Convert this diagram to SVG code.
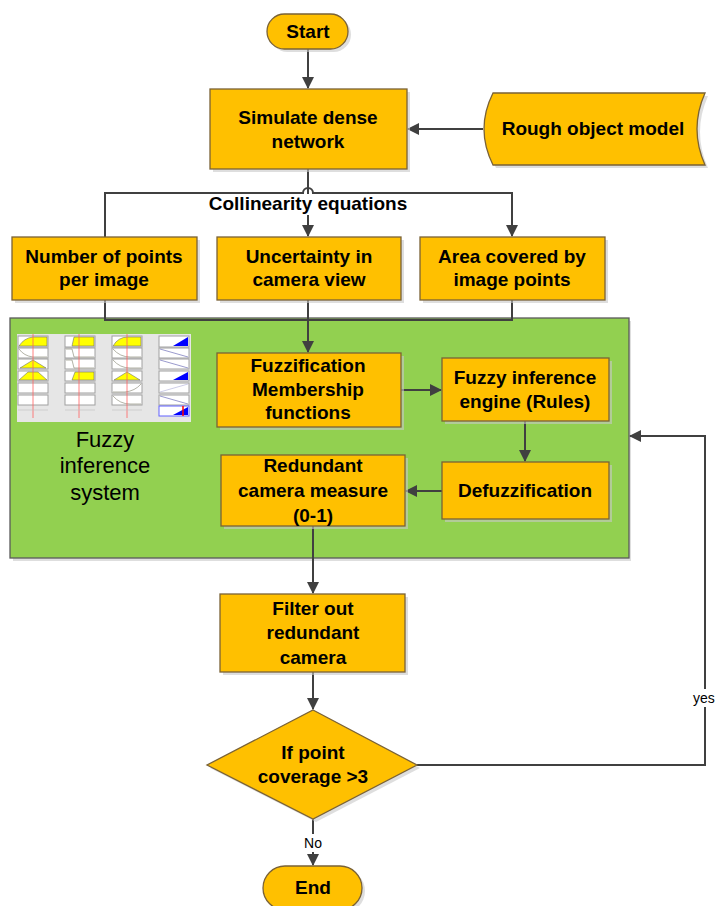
<svg xmlns="http://www.w3.org/2000/svg" width="715" height="906" viewBox="0 0 715 906">
<style>
.box{fill:#FFC000;stroke:#7a6236;stroke-width:1.3}
.sh{fill:#c8c8c8;opacity:0.6}
.t{font-family:"Liberation Sans",Arial,sans-serif;font-weight:bold;font-size:19px;fill:#000;text-anchor:middle}
.lbl{font-family:"Liberation Sans",Arial,sans-serif;font-size:14px;fill:#000;text-anchor:middle}
.ln{fill:none;stroke:#404040;stroke-width:2}
.mf{fill:#fff;stroke:#a0a0a0;stroke-width:1}
.y{fill:#ffff00;stroke:#707070;stroke-width:0.6}
.b{fill:#0000ff}
.c{fill:none;stroke:#a0a090;stroke-width:0.8}
.r{stroke:#ff6060;stroke-width:0.8}
</style>
<defs>
<marker id="ah" markerWidth="12" markerHeight="12" refX="11" refY="6" orient="auto" markerUnits="userSpaceOnUse">
<path d="M0,0 L12,6 L0,12 z" fill="#404040"/>
</marker>
</defs>
<rect width="715" height="906" fill="#fff"/>

<g id="panel">
<rect x="13" y="321" width="618" height="240" class="sh"/>
<rect x="10" y="318" width="619" height="240" fill="#92D050" stroke="#5a5a5a" stroke-width="1.3"/>
</g>

<g id="fis-image">
<rect x="17" y="334" width="174" height="88" fill="#e6e6e6"/>
<g>
<rect x="18" y="336" width="30" height="11" class="mf"/><path d="M19,346 Q24,338 33,337 L47,337 L47,346 z" class="y"/>
<rect x="18" y="348" width="30" height="10" class="mf"/><path d="M19,349 Q24,356 33,357 L47,357" class="c"/>
<rect x="18" y="359" width="30" height="10" class="mf"/><path d="M20,368 L33,360 L46,368 z" class="y"/>
<rect x="18" y="371" width="30" height="10" class="mf"/><path d="M19,380 L28,372 L38,372 L47,380 z" class="y"/>
<rect x="18" y="383" width="30" height="10" class="mf"/>
<rect x="18" y="395" width="30" height="10" class="mf"/>
<rect x="65" y="336" width="30" height="11" class="mf"/><path d="M72,346 L74,337 L94,337 L94,346 z" class="y"/>
<rect x="65" y="348" width="30" height="10" class="mf"/><path d="M66,349 L72,349 L74,357 L94,357" class="c"/>
<rect x="65" y="359" width="30" height="10" class="mf"/><path d="M66,360 L72,360 L74,368 L94,368" class="c"/>
<rect x="65" y="371" width="30" height="10" class="mf"/><path d="M72,380 L75,372 L94,372 L94,380 z" class="y"/>
<rect x="65" y="383" width="30" height="10" class="mf"/>
<rect x="65" y="395" width="30" height="10" class="mf"/>
<rect x="112" y="336" width="30" height="11" class="mf"/><path d="M113,346 Q118,337 128,337 L141,337 L141,346 z" class="y"/>
<rect x="112" y="348" width="30" height="10" class="mf"/><path d="M113,349 Q120,357 130,357 L141,357" class="c"/>
<rect x="112" y="359" width="30" height="10" class="mf"/><path d="M113,360 Q120,368 130,368 L141,368" class="c"/>
<rect x="112" y="371" width="30" height="10" class="mf"/><path d="M114,380 L127,372 L140,380 z" class="y"/>
<rect x="112" y="383" width="30" height="10" class="mf"/><path d="M113,392 L125,392 Q135,391 141,384" class="c"/>
<rect x="112" y="395" width="30" height="10" class="mf"/><path d="M113,396 Q120,404 130,404 L141,404" class="c"/>
<rect x="159" y="336" width="30" height="11" class="mf"/><path d="M173,346 L188,337 L188,346 z" class="b"/>
<rect x="159" y="348" width="30" height="10" class="mf"/><path d="M160,349 L188,357" stroke="#8080c0" stroke-width="0.8"/>
<rect x="159" y="359" width="30" height="10" class="mf"/><path d="M160,360 L188,368" stroke="#8080c0" stroke-width="0.8"/>
<rect x="159" y="371" width="30" height="10" class="mf"/><path d="M173,380 L188,372 L188,380 z" class="b"/>
<rect x="159" y="383" width="30" height="10" class="mf"/><path d="M160,392 L188,384" stroke="#c0c0e0" stroke-width="0.8"/>
<rect x="159" y="395" width="30" height="10" class="mf"/><path d="M160,396 L188,404" stroke="#8080c0" stroke-width="0.8"/>
<rect x="159" y="406" width="30" height="10" fill="#fff" stroke="#6060ff" stroke-width="1"/><path d="M173,415 L188,407 L188,415 z" class="b"/>
<line x1="183" y1="406" x2="183" y2="416" stroke="#ff0000" stroke-width="1.5"/>
<line x1="33" y1="334" x2="33" y2="418" class="r"/>
<line x1="79" y1="334" x2="79" y2="418" class="r"/>
<line x1="127" y1="334" x2="127" y2="418" class="r"/>
<line x1="18" y1="410" x2="48" y2="410" stroke="#c0c0c0" stroke-width="0.6"/>
<line x1="65" y1="410" x2="95" y2="410" stroke="#c0c0c0" stroke-width="0.6"/>
<line x1="112" y1="410" x2="142" y2="410" stroke="#c0c0c0" stroke-width="0.6"/>
</g>
<text x="105" y="447" font-family="Liberation Sans,Arial,sans-serif" font-size="22" text-anchor="middle">Fuzzy</text>
<text x="105" y="473" font-family="Liberation Sans,Arial,sans-serif" font-size="22" text-anchor="middle">inference</text>
<text x="105" y="500" font-family="Liberation Sans,Arial,sans-serif" font-size="22" text-anchor="middle">system</text>
</g>

<g id="connectors">
<line x1="308" y1="49" x2="308" y2="88" class="ln" marker-end="url(#ah)"/>
<line x1="483" y1="129" x2="408" y2="129" class="ln" marker-end="url(#ah)"/>
<line x1="308" y1="169" x2="308" y2="194" class="ln"/>
<path d="M105,237 L105,193 L303,193 A5,5 0 0 1 313,193 L512,193 L512,236" class="ln" marker-end="url(#ah)"/>
<line x1="308" y1="215" x2="308" y2="236" class="ln" marker-end="url(#ah)"/>
<path d="M105,300 L105,320 L512,320 L512,300" class="ln"/>
<line x1="308" y1="300" x2="308" y2="352" class="ln" marker-end="url(#ah)"/>
<line x1="401" y1="390" x2="441" y2="390" class="ln" marker-end="url(#ah)"/>
<line x1="525" y1="421" x2="525" y2="461" class="ln" marker-end="url(#ah)"/>
<line x1="442" y1="491" x2="406" y2="491" class="ln" marker-end="url(#ah)"/>
<line x1="313" y1="526" x2="313" y2="593" class="ln" marker-end="url(#ah)"/>
<line x1="313" y1="672" x2="313" y2="709" class="ln" marker-end="url(#ah)"/>
<path d="M417,765 L705,765 L705,436 L630,436" class="ln" marker-end="url(#ah)"/>
<line x1="313" y1="819" x2="313" y2="865" class="ln" marker-end="url(#ah)"/>
<rect x="299" y="834" width="28" height="18" fill="#fff"/>
<text x="313" y="848" class="lbl">No</text>
<rect x="692" y="689" width="23" height="18" fill="#fff"/>
<text x="693" y="703" class="lbl" style="text-anchor:start">yes</text>
<rect x="204" y="197" width="209" height="18" fill="#fff"/>
<text x="308" y="210" class="t">Collinearity equations</text>
</g>

<g id="start">
<rect x="270" y="17" width="81" height="35" rx="17.5" class="sh"/>
<rect x="267" y="14" width="81" height="35" rx="17.5" class="box"/>
<text x="308" y="38" class="t">Start</text>
</g>

<g id="simulate">
<rect x="213" y="92" width="197" height="80" class="sh"/>
<rect x="210" y="89" width="197" height="80" class="box"/>
<text x="308" y="124" class="t">Simulate dense</text>
<text x="308" y="148" class="t">network</text>
</g>

<g id="rough">
<path d="M496,96 L708,96 Q692,132 708,168 L496,168 Q478,132 496,96 z" class="sh"/>
<path d="M493,93 L705,93 Q689,129 705,165 L493,165 Q475,129 493,93 z" class="box"/>
<text x="593" y="135" class="t">Rough object model</text>
</g>

<g id="number">
<rect x="15" y="240" width="185" height="63" class="sh"/>
<rect x="12" y="237" width="185" height="63" class="box"/>
<text x="104" y="263" class="t">Number of points</text>
<text x="104" y="286" class="t">per image</text>
</g>

<g id="uncertainty">
<rect x="220" y="240" width="184" height="63" class="sh"/>
<rect x="217" y="237" width="184" height="63" class="box"/>
<text x="309" y="263" class="t">Uncertainty in</text>
<text x="309" y="286" class="t">camera view</text>
</g>

<g id="area">
<rect x="423" y="240" width="185" height="63" class="sh"/>
<rect x="420" y="237" width="185" height="63" class="box"/>
<text x="512" y="263" class="t">Area covered by</text>
<text x="512" y="286" class="t">image points</text>
</g>

<g id="fuzzification">
<rect x="220" y="356" width="184" height="74" class="sh"/>
<rect x="217" y="353" width="184" height="74" class="box"/>
<text x="308" y="372" class="t">Fuzzification</text>
<text x="308" y="396" class="t">Membership</text>
<text x="308" y="419" class="t">functions</text>
</g>

<g id="inference">
<rect x="445" y="361" width="167" height="63" class="sh"/>
<rect x="442" y="358" width="167" height="63" class="box"/>
<text x="525" y="384" class="t">Fuzzy inference</text>
<text x="525" y="408" class="t">engine (Rules)</text>
</g>

<g id="defuzz">
<rect x="445" y="465" width="167" height="57" class="sh"/>
<rect x="442" y="462" width="167" height="57" class="box"/>
<text x="525" y="497" class="t">Defuzzification</text>
</g>

<g id="redundant">
<rect x="224" y="458" width="184" height="71" class="sh"/>
<rect x="221" y="455" width="184" height="71" class="box"/>
<text x="313" y="472" class="t">Redundant</text>
<text x="313" y="497" class="t">camera measure</text>
<text x="313" y="522" class="t">(0-1)</text>
</g>

<g id="filter">
<rect x="223" y="597" width="185" height="78" class="sh"/>
<rect x="220" y="594" width="185" height="78" class="box"/>
<text x="313" y="615" class="t">Filter out</text>
<text x="313" y="639" class="t">redundant</text>
<text x="313" y="664" class="t">camera</text>
</g>

<g id="decision">
<path d="M316,713 L420,768 L316,822 L210,768 z" class="sh"/>
<path d="M313,710 L417,765 L313,819 L207,765 z" class="box"/>
<text x="313" y="759" class="t">If point</text>
<text x="313" y="783" class="t">coverage &gt;3</text>
</g>

<g id="end">
<rect x="266" y="869" width="99" height="44" rx="22" class="sh"/>
<rect x="263" y="866" width="99" height="44" rx="22" class="box"/>
<text x="313" y="894" class="t">End</text>
</g>
</svg>
